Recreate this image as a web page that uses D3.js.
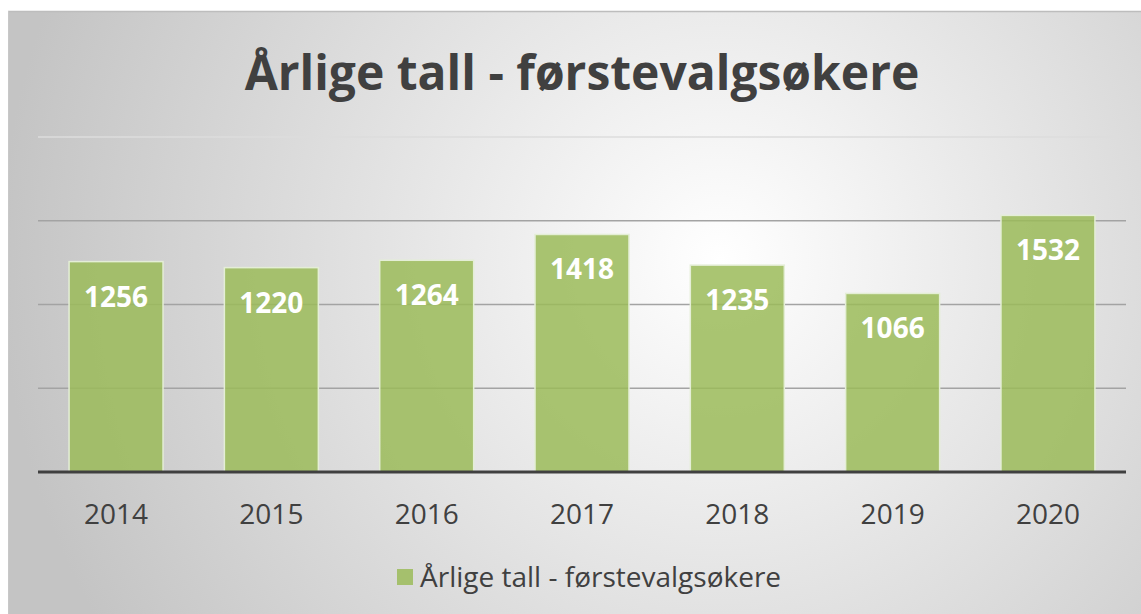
<!DOCTYPE html>
<html>
<head>
<meta charset="utf-8">
<script src="https://cdn.jsdelivr.net/npm/d3@7"></script>
<style>
  body { margin: 0; background: #fff; }
  text { font-family: "Open Sans", "Noto Sans", sans-serif; }
</style>
</head>
<body>
<div id="chart"></div>
<script>
const years = ["2014", "2015", "2016", "2017", "2018", "2019", "2020"];
const applicants = [1256, 1220, 1264, 1418, 1235, 1066, 1532];
const gridTicks = [500, 1000, 1500, 2000];
const title = "Årlige tall - førstevalgsøkere";

const width = 1141, height = 614;
const margin = { top: 137, right: 15, bottom: 143, left: 38 };

const svg = d3.select("#chart").append("svg")
    .attr("width", width)
    .attr("height", height);

// background panel with soft radial shading
const defs = svg.append("defs");
const grad = defs.append("radialGradient")
    .attr("id", "bg")
    .attr("gradientUnits", "userSpaceOnUse")
    .attr("cx", 720).attr("cy", 260).attr("r", 720);
grad.append("stop").attr("offset", "0%").attr("stop-color", "#ffffff");
grad.append("stop").attr("offset", "100%").attr("stop-color", "#c4c4c4");

svg.append("rect")
    .attr("x", 8).attr("y", 11)
    .attr("width", width - 8).attr("height", height - 11)
    .attr("fill", "url(#bg)");
svg.append("line")
    .attr("x1", 8).attr("x2", width).attr("y1", 11.5).attr("y2", 11.5)
    .attr("stroke", "#bdbdbd").attr("stroke-width", 1.5);
svg.append("line")
    .attr("x1", 8.5).attr("x2", 8.5).attr("y1", 11).attr("y2", height)
    .attr("stroke", "#c8c8c8").attr("stroke-width", 1);

const innerW = width - margin.left - margin.right;
const innerH = height - margin.top - margin.bottom;

const x = d3.scaleBand()
    .domain(years)
    .range([0, innerW])
    .paddingInner(0.395)
    .paddingOuter(0.2);

const y = d3.scaleLinear()
    .domain([0, 2000])
    .range([innerH + 1, 0]);

const g = svg.append("g")
    .attr("transform", `translate(${margin.left},${margin.top})`);

// gridlines
g.append("g")
    .selectAll("line")
    .data(gridTicks)
    .join("line")
    .attr("x1", 0).attr("x2", innerW)
    .attr("y1", d => y(d)).attr("y2", d => y(d))
    .attr("stroke", d => d === 2000 ? "#dcdcdc" : "#a3a3a3")
    .attr("stroke-width", 1.5);

const data = years.map((yr, i) => ({ year: yr, value: applicants[i] }));

g.selectAll(".bar")
    .data(data)
    .join("rect")
    .attr("class", "bar")
    .attr("x", d => x(d.year))
    .attr("y", d => y(d.value))
    .attr("width", x.bandwidth())
    .attr("height", d => y(0) - y(d.value))
    .attr("fill", "#9bbb59")
    .attr("fill-opacity", 0.85)
    .attr("stroke", "#e4eed6")
    .attr("stroke-width", 1.5);

g.selectAll(".val")
    .data(data)
    .join("text")
    .attr("class", "val")
    .attr("x", d => x(d.year) + x.bandwidth() / 2)
    .attr("y", d => y(d.value) + 45)
    .attr("text-anchor", "middle")
    .attr("fill", "#fff")
    .attr("font-size", 28)
    .attr("font-weight", "bold")
    .text(d => d.value);

// x axis
const xAxis = d3.axisBottom(x).tickSize(0).tickPadding(32);
const xAxisG = g.append("g")
    .attr("transform", `translate(0,${y(0)})`)
    .call(xAxis);
xAxisG.select(".domain").remove();
xAxisG.append("line")
    .attr("x1", 0).attr("x2", innerW)
    .attr("stroke", "#404040").attr("stroke-width", 3);
xAxisG.selectAll(".tick text")
    .attr("fill", "#404040")
    .attr("font-size", 28)
    .attr("font-family", "'Open Sans', sans-serif");

// title
svg.append("text")
    .attr("x", 582).attr("y", 90)
    .attr("text-anchor", "middle")
    .attr("fill", "#404040")
    .attr("font-size", 48)
    .attr("font-weight", "bold")
    .text(title);

// legend
const legend = svg.append("g").attr("transform", "translate(397,569)");
legend.append("rect")
    .attr("width", 16).attr("height", 16)
    .attr("fill", "#9bbb59").attr("fill-opacity", 0.85);
legend.append("text")
    .attr("x", 23).attr("y", 18)
    .attr("fill", "#404040")
    .attr("font-size", 28)
    .text(title);
</script>
</body>
</html>
